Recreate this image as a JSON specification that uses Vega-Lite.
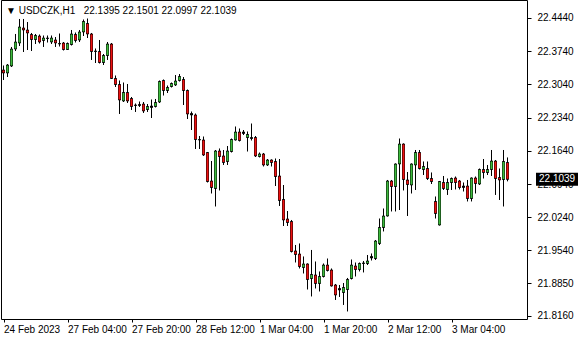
{
 "$schema": "https://vega.github.io/schema/vega-lite/v6.json",
 "width": 526,
 "height": 319,
 "autosize": {"type": "none"},
 "padding": {"left": 1, "top": 0, "right": 53, "bottom": 21},
 "background": "white",
 "config": {
  "view": {"stroke": "black", "strokeWidth": 1},
  "font": "Liberation Sans",
  "axis": {"labelOverlap": false, "labelFlush": false, "labelBound": false, "grid": false, "domain": false, "tickColor": "black", "labelColor": "black", "labelFont": "Liberation Sans", "labelFontSize": 10, "title": null}
 },
 "datasets": {
  "candles": [
   {"i":0,"o":22.3344,"h":22.3439,"l":22.3133,"c":22.3281},
   {"i":1,"o":22.3281,"h":22.3470,"l":22.3196,"c":22.3449},
   {"i":2,"o":22.3428,"h":22.3829,"l":22.3407,"c":22.3786},
   {"i":3,"o":22.3786,"h":22.4103,"l":22.3744,"c":22.3934},
   {"i":4,"o":22.3913,"h":22.4419,"l":22.3850,"c":22.4250},
   {"i":5,"o":22.4229,"h":22.4419,"l":22.3723,"c":22.4187},
   {"i":6,"o":22.4187,"h":22.4355,"l":22.3765,"c":22.4124},
   {"i":7,"o":22.4092,"h":22.4124,"l":22.3744,"c":22.3987},
   {"i":8,"o":22.3987,"h":22.4103,"l":22.3892,"c":22.4071},
   {"i":9,"o":22.4060,"h":22.4092,"l":22.3902,"c":22.3934},
   {"i":10,"o":22.3966,"h":22.4071,"l":22.3829,"c":22.4018},
   {"i":11,"o":22.4018,"h":22.4071,"l":22.3923,"c":22.4008},
   {"i":12,"o":22.3934,"h":22.4071,"l":22.3892,"c":22.4018},
   {"i":13,"o":22.3976,"h":22.4039,"l":22.3829,"c":22.3913},
   {"i":14,"o":22.3902,"h":22.4113,"l":22.3839,"c":22.3892},
   {"i":15,"o":22.3913,"h":22.3934,"l":22.3755,"c":22.3776},
   {"i":16,"o":22.3776,"h":22.3923,"l":22.3765,"c":22.3902},
   {"i":17,"o":22.3881,"h":22.4187,"l":22.3860,"c":22.4103},
   {"i":18,"o":22.4092,"h":22.4134,"l":22.3923,"c":22.3966},
   {"i":19,"o":22.3976,"h":22.4187,"l":22.3934,"c":22.4145},
   {"i":20,"o":22.4145,"h":22.4408,"l":22.4060,"c":22.4366},
   {"i":21,"o":22.4324,"h":22.4429,"l":22.4018,"c":22.4103},
   {"i":22,"o":22.4103,"h":22.4124,"l":22.3555,"c":22.3734},
   {"i":23,"o":22.3744,"h":22.3797,"l":22.3491,"c":22.3734},
   {"i":24,"o":22.3734,"h":22.3976,"l":22.3481,"c":22.3502},
   {"i":25,"o":22.3502,"h":22.3681,"l":22.3449,"c":22.3649},
   {"i":26,"o":22.3649,"h":22.3934,"l":22.3555,"c":22.3892},
   {"i":27,"o":22.3892,"h":22.3913,"l":22.3154,"c":22.3165},
   {"i":28,"o":22.3165,"h":22.3228,"l":22.2986,"c":22.3038},
   {"i":29,"o":22.3038,"h":22.3123,"l":22.2417,"c":22.2712},
   {"i":30,"o":22.2691,"h":22.3080,"l":22.2669,"c":22.2870},
   {"i":31,"o":22.2870,"h":22.3049,"l":22.2648,"c":22.2691},
   {"i":32,"o":22.2743,"h":22.2775,"l":22.2501,"c":22.2575},
   {"i":33,"o":22.2606,"h":22.2638,"l":22.2459,"c":22.2596},
   {"i":34,"o":22.2596,"h":22.2680,"l":22.2564,"c":22.2617},
   {"i":35,"o":22.2627,"h":22.2669,"l":22.2438,"c":22.2480},
   {"i":36,"o":22.2511,"h":22.2627,"l":22.2459,"c":22.2575},
   {"i":37,"o":22.2585,"h":22.2722,"l":22.2332,"c":22.2554},
   {"i":38,"o":22.2575,"h":22.2733,"l":22.2554,"c":22.2659},
   {"i":39,"o":22.2669,"h":22.3123,"l":22.2648,"c":22.3101},
   {"i":40,"o":22.3123,"h":22.3144,"l":22.2806,"c":22.2912},
   {"i":41,"o":22.2912,"h":22.3017,"l":22.2859,"c":22.2975},
   {"i":42,"o":22.2996,"h":22.3080,"l":22.2975,"c":22.3059},
   {"i":43,"o":22.3028,"h":22.3238,"l":22.3007,"c":22.3112},
   {"i":44,"o":22.3123,"h":22.3259,"l":22.3101,"c":22.3207},
   {"i":45,"o":22.3144,"h":22.3196,"l":22.2606,"c":22.2912},
   {"i":46,"o":22.2912,"h":22.2933,"l":22.2311,"c":22.2417},
   {"i":47,"o":22.2427,"h":22.2469,"l":22.2079,"c":22.2396},
   {"i":48,"o":22.2396,"h":22.2427,"l":22.1679,"c":22.1879},
   {"i":49,"o":22.1879,"h":22.1953,"l":22.1679,"c":22.1869},
   {"i":50,"o":22.1869,"h":22.1942,"l":22.1532,"c":22.1553},
   {"i":51,"o":22.1605,"h":22.1616,"l":22.0973,"c":22.0994},
   {"i":52,"o":22.1005,"h":22.1426,"l":22.0741,"c":22.0868},
   {"i":53,"o":22.0847,"h":22.1658,"l":22.0467,"c":22.1637},
   {"i":54,"o":22.1637,"h":22.1690,"l":22.0805,"c":22.1521},
   {"i":55,"o":22.1532,"h":22.1658,"l":22.1342,"c":22.1395},
   {"i":56,"o":22.1416,"h":22.1742,"l":22.1342,"c":22.1637},
   {"i":57,"o":22.1626,"h":22.1900,"l":22.1605,"c":22.1879},
   {"i":58,"o":22.1869,"h":22.2153,"l":22.1858,"c":22.2037},
   {"i":59,"o":22.2037,"h":22.2111,"l":22.1837,"c":22.1858},
   {"i":60,"o":22.2037,"h":22.2079,"l":22.1974,"c":22.2006},
   {"i":61,"o":22.1921,"h":22.2048,"l":22.1626,"c":22.1985},
   {"i":62,"o":22.1921,"h":22.2216,"l":22.1858,"c":22.1900},
   {"i":63,"o":22.1921,"h":22.1953,"l":22.1510,"c":22.1532},
   {"i":64,"o":22.1521,"h":22.1605,"l":22.1500,"c":22.1574},
   {"i":65,"o":22.1574,"h":22.1595,"l":22.1310,"c":22.1342},
   {"i":66,"o":22.1342,"h":22.1468,"l":22.1321,"c":22.1447},
   {"i":67,"o":22.1447,"h":22.1458,"l":22.1310,"c":22.1395},
   {"i":68,"o":22.1416,"h":22.1479,"l":22.0899,"c":22.1099},
   {"i":69,"o":22.1110,"h":22.1468,"l":22.0478,"c":22.0594},
   {"i":70,"o":22.0615,"h":22.0920,"l":22.0056,"c":22.0183},
   {"i":71,"o":22.0204,"h":22.0372,"l":22.0056,"c":22.0130},
   {"i":72,"o":22.0151,"h":22.0183,"l":21.9498,"c":21.9519},
   {"i":73,"o":21.9530,"h":21.9656,"l":21.9287,"c":21.9456},
   {"i":74,"o":21.9466,"h":21.9688,"l":21.9161,"c":21.9203},
   {"i":75,"o":21.9182,"h":21.9414,"l":21.9055,"c":21.9256},
   {"i":76,"o":21.9256,"h":21.9266,"l":21.8718,"c":21.8929},
   {"i":77,"o":21.8950,"h":21.9551,"l":21.8571,"c":21.9034},
   {"i":78,"o":21.9024,"h":21.9308,"l":21.8739,"c":21.8845},
   {"i":79,"o":21.8845,"h":21.9098,"l":21.8676,"c":21.8992},
   {"i":80,"o":21.8992,"h":21.9266,"l":21.8971,"c":21.9234},
   {"i":81,"o":21.9234,"h":21.9371,"l":21.9098,"c":21.9119},
   {"i":82,"o":21.9129,"h":21.9161,"l":21.8781,"c":21.8792},
   {"i":83,"o":21.8813,"h":21.8834,"l":21.8497,"c":21.8602},
   {"i":84,"o":21.8739,"h":21.8813,"l":21.8560,"c":21.8708},
   {"i":85,"o":21.8655,"h":21.8855,"l":21.8392,"c":21.8760},
   {"i":86,"o":21.8718,"h":21.8961,"l":21.8255,"c":21.8929},
   {"i":87,"o":21.8950,"h":21.9350,"l":21.8929,"c":21.9234},
   {"i":88,"o":21.9213,"h":21.9287,"l":21.8992,"c":21.9140},
   {"i":89,"o":21.9140,"h":21.9287,"l":21.9098,"c":21.9266},
   {"i":90,"o":21.9266,"h":21.9319,"l":21.9077,"c":21.9277},
   {"i":91,"o":21.9266,"h":21.9445,"l":21.9234,"c":21.9319},
   {"i":92,"o":21.9382,"h":21.9477,"l":21.9329,"c":21.9414},
   {"i":93,"o":21.9371,"h":21.9761,"l":21.9340,"c":21.9740},
   {"i":94,"o":21.9688,"h":22.0214,"l":21.9656,"c":22.0025},
   {"i":95,"o":22.0025,"h":22.0425,"l":21.9941,"c":22.0267},
   {"i":96,"o":22.0267,"h":22.1026,"l":22.0257,"c":22.1005},
   {"i":97,"o":22.1005,"h":22.1026,"l":22.0362,"c":22.0889},
   {"i":98,"o":22.0889,"h":22.1373,"l":22.0362,"c":22.1363},
   {"i":99,"o":22.1363,"h":22.1900,"l":22.0393,"c":22.1784},
   {"i":100,"o":22.1784,"h":22.1795,"l":22.0805,"c":22.1036},
   {"i":101,"o":22.1026,"h":22.1194,"l":22.0267,"c":22.0931},
   {"i":102,"o":22.0920,"h":22.1373,"l":22.0741,"c":22.1363},
   {"i":103,"o":22.1342,"h":22.1658,"l":22.0815,"c":22.1605},
   {"i":104,"o":22.1605,"h":22.1658,"l":22.1247,"c":22.1268},
   {"i":105,"o":22.1247,"h":22.1416,"l":22.1131,"c":22.1310},
   {"i":106,"o":22.1268,"h":22.1416,"l":22.1026,"c":22.1057},
   {"i":107,"o":22.1057,"h":22.1184,"l":22.0941,"c":22.0994},
   {"i":108,"o":22.0573,"h":22.0678,"l":22.0214,"c":22.0320},
   {"i":109,"o":22.0077,"h":22.1005,"l":22.0067,"c":22.0994},
   {"i":110,"o":22.0973,"h":22.1110,"l":22.0815,"c":22.0847},
   {"i":111,"o":22.0826,"h":22.1057,"l":22.0710,"c":22.0973},
   {"i":112,"o":22.0973,"h":22.1078,"l":22.0815,"c":22.1057},
   {"i":113,"o":22.1068,"h":22.1099,"l":22.0826,"c":22.0973},
   {"i":114,"o":22.1005,"h":22.1026,"l":22.0826,"c":22.0868},
   {"i":115,"o":22.0899,"h":22.0973,"l":22.0783,"c":22.0868},
   {"i":116,"o":22.0899,"h":22.1026,"l":22.0573,"c":22.0636},
   {"i":117,"o":22.0636,"h":22.1078,"l":22.0573,"c":22.1068},
   {"i":118,"o":22.1068,"h":22.1099,"l":22.0741,"c":22.0952},
   {"i":119,"o":22.0941,"h":22.1268,"l":22.0920,"c":22.1247},
   {"i":120,"o":22.1247,"h":22.1468,"l":22.1057,"c":22.1184},
   {"i":121,"o":22.1184,"h":22.1342,"l":22.1131,"c":22.1247},
   {"i":122,"o":22.1247,"h":22.1658,"l":22.1110,"c":22.1426},
   {"i":123,"o":22.1426,"h":22.1447,"l":22.0710,"c":22.1057},
   {"i":124,"o":22.1078,"h":22.1268,"l":22.0604,"c":22.1026},
   {"i":125,"o":22.1036,"h":22.1658,"l":22.0467,"c":22.1416},
   {"i":126,"o":22.1395,"h":22.1501,"l":22.0997,"c":22.1039}
  ],
  "last": [{"c": 22.1039, "header": "▼ USDCZK,H1\u00a0\u00a0 22.1395 22.1501 22.0997 22.1039"}]
 },
 "layer": [
  {
   "data": {"name": "candles"},
   "mark": {"type": "rule", "color": "black", "strokeWidth": 1},
   "encoding": {
    "x": {"field": "i", "type": "quantitative", "title": null,
     "scale": {"domain": [-0.625, 130.875], "nice": false, "zero": false, "padding": 0},
     "axis": {"values": [0, 16, 32, 48, 64, 80, 96, 112], "labelExpr": "['24 Feb 2023','27 Feb 04:00','27 Feb 20:00','28 Feb 12:00','1 Mar 04:00','1 Mar 20:00','2 Mar 12:00','3 Mar 04:00'][round(datum.value/16)]", "tickSize": 3, "labelAlign": "left", "labelBaseline": "top", "labelPadding": 2, "labelOverlap": false}},
    "y": {"field": "l", "type": "quantitative", "title": null,
     "scale": {"domain": [21.8096, 22.4819], "nice": false, "zero": false, "padding": 0},
     "axis": {"orient": "right", "values": [22.444, 22.374, 22.304, 22.234, 22.164, 22.094, 22.024, 21.954, 21.885, 21.816], "format": ".4f", "tickSize": 4, "labelAlign": "left", "labelBaseline": "middle", "labelPadding": 6, "labelOverlap": false}},
    "y2": {"field": "h"}
   }
  },
  {
   "data": {"name": "candles"},
   "mark": {"type": "rect", "color": "black", "stroke": "black", "strokeWidth": 1, "xOffset": -1, "x2Offset": 1},
   "encoding": {
    "x": {"field": "i", "type": "quantitative", "title": null,
     "axis": {"values": [0, 16, 32, 48, 64, 80, 96, 112], "labelExpr": "['24 Feb 2023','27 Feb 04:00','27 Feb 20:00','28 Feb 12:00','1 Mar 04:00','1 Mar 20:00','2 Mar 12:00','3 Mar 04:00'][round(datum.value/16)]", "tickSize": 3, "labelAlign": "left", "labelBaseline": "top", "labelPadding": 2, "labelOverlap": false}},
    "x2": {"field": "i"},
    "y": {"field": "o", "type": "quantitative", "title": null,
     "axis": {"orient": "right", "values": [22.444, 22.374, 22.304, 22.234, 22.164, 22.094, 22.024, 21.954, 21.885, 21.816], "format": ".4f", "tickSize": 4, "labelAlign": "left", "labelBaseline": "middle", "labelPadding": 6, "labelOverlap": false}},
    "y2": {"field": "c"}
   }
  },
  {
   "data": {"name": "candles"},
   "transform": [{"filter": "datum.c - datum.o > 0.0035"}],
   "mark": {"type": "rect", "color": "#3dbb3d", "xOffset": -1, "x2Offset": 1, "yOffset": -0.5, "y2Offset": 0.5},
   "encoding": {
    "x": {"field": "i", "type": "quantitative", "title": null,
     "axis": {"values": [0, 16, 32, 48, 64, 80, 96, 112], "labelExpr": "['24 Feb 2023','27 Feb 04:00','27 Feb 20:00','28 Feb 12:00','1 Mar 04:00','1 Mar 20:00','2 Mar 12:00','3 Mar 04:00'][round(datum.value/16)]", "tickSize": 3, "labelAlign": "left", "labelBaseline": "top", "labelPadding": 2, "labelOverlap": false}},
    "x2": {"field": "i"},
    "y": {"field": "o", "type": "quantitative", "title": null,
     "axis": {"orient": "right", "values": [22.444, 22.374, 22.304, 22.234, 22.164, 22.094, 22.024, 21.954, 21.885, 21.816], "format": ".4f", "tickSize": 4, "labelAlign": "left", "labelBaseline": "middle", "labelPadding": 6, "labelOverlap": false}},
    "y2": {"field": "c"}
   }
  },
  {
   "data": {"name": "candles"},
   "transform": [{"filter": "datum.o - datum.c > 0.0035"}],
   "mark": {"type": "rect", "color": "#ee1111", "xOffset": -1, "x2Offset": 1, "yOffset": 0.5, "y2Offset": -0.5},
   "encoding": {
    "x": {"field": "i", "type": "quantitative", "title": null,
     "axis": {"values": [0, 16, 32, 48, 64, 80, 96, 112], "labelExpr": "['24 Feb 2023','27 Feb 04:00','27 Feb 20:00','28 Feb 12:00','1 Mar 04:00','1 Mar 20:00','2 Mar 12:00','3 Mar 04:00'][round(datum.value/16)]", "tickSize": 3, "labelAlign": "left", "labelBaseline": "top", "labelPadding": 2, "labelOverlap": false}},
    "x2": {"field": "i"},
    "y": {"field": "o", "type": "quantitative", "title": null,
     "axis": {"orient": "right", "values": [22.444, 22.374, 22.304, 22.234, 22.164, 22.094, 22.024, 21.954, 21.885, 21.816], "format": ".4f", "tickSize": 4, "labelAlign": "left", "labelBaseline": "middle", "labelPadding": 6, "labelOverlap": false}},
    "y2": {"field": "c"}
   }
  },
  {
   "data": {"name": "last"},
   "mark": {"type": "rect", "color": "black", "clip": false},
   "encoding": {
    "x": {"datum": 133.125, "type": "quantitative",
     "axis": {"values": [0, 16, 32, 48, 64, 80, 96, 112], "labelExpr": "['24 Feb 2023','27 Feb 04:00','27 Feb 20:00','28 Feb 12:00','1 Mar 04:00','1 Mar 20:00','2 Mar 12:00','3 Mar 04:00'][round(datum.value/16)]", "tickSize": 3, "labelAlign": "left", "labelBaseline": "top", "labelPadding": 2, "labelOverlap": false}},
    "x2": {"datum": 143.625},
    "y": {"datum": 22.0902, "type": "quantitative",
     "axis": {"orient": "right", "values": [22.444, 22.374, 22.304, 22.234, 22.164, 22.094, 22.024, 21.954, 21.885, 21.816], "format": ".4f", "tickSize": 4, "labelAlign": "left", "labelBaseline": "middle", "labelPadding": 6, "labelOverlap": false}},
    "y2": {"datum": 22.1176}
   }
  },
  {
   "data": {"name": "last"},
   "mark": {"type": "text", "color": "white", "fontSize": 10, "font": "Liberation Sans", "align": "center", "baseline": "middle", "clip": false},
   "encoding": {
    "x": {"datum": 138.4, "type": "quantitative",
     "axis": {"values": [0, 16, 32, 48, 64, 80, 96, 112], "labelExpr": "['24 Feb 2023','27 Feb 04:00','27 Feb 20:00','28 Feb 12:00','1 Mar 04:00','1 Mar 20:00','2 Mar 12:00','3 Mar 04:00'][round(datum.value/16)]", "tickSize": 3, "labelAlign": "left", "labelBaseline": "top", "labelPadding": 2, "labelOverlap": false}},
    "y": {"field": "c", "type": "quantitative", "title": null,
     "axis": {"orient": "right", "values": [22.444, 22.374, 22.304, 22.234, 22.164, 22.094, 22.024, 21.954, 21.885, 21.816], "format": ".4f", "tickSize": 4, "labelAlign": "left", "labelBaseline": "middle", "labelPadding": 6, "labelOverlap": false}},
    "text": {"field": "c", "type": "quantitative", "format": ".4f"}
   }
  },
  {
   "data": {"name": "last"},
   "mark": {"type": "text", "color": "black", "fontSize": 10, "font": "Liberation Sans", "align": "left", "baseline": "alphabetic", "clip": false},
   "encoding": {
    "x": {"datum": 0.625, "type": "quantitative",
     "axis": {"values": [0, 16, 32, 48, 64, 80, 96, 112], "labelExpr": "['24 Feb 2023','27 Feb 04:00','27 Feb 20:00','28 Feb 12:00','1 Mar 04:00','1 Mar 20:00','2 Mar 12:00','3 Mar 04:00'][round(datum.value/16)]", "tickSize": 3, "labelAlign": "left", "labelBaseline": "top", "labelPadding": 2, "labelOverlap": false}},
    "y": {"datum": 22.4524, "type": "quantitative",
     "axis": {"orient": "right", "values": [22.444, 22.374, 22.304, 22.234, 22.164, 22.094, 22.024, 21.954, 21.885, 21.816], "format": ".4f", "tickSize": 4, "labelAlign": "left", "labelBaseline": "middle", "labelPadding": 6, "labelOverlap": false}},
    "text": {"field": "header"}
   }
  }
 ]
}
